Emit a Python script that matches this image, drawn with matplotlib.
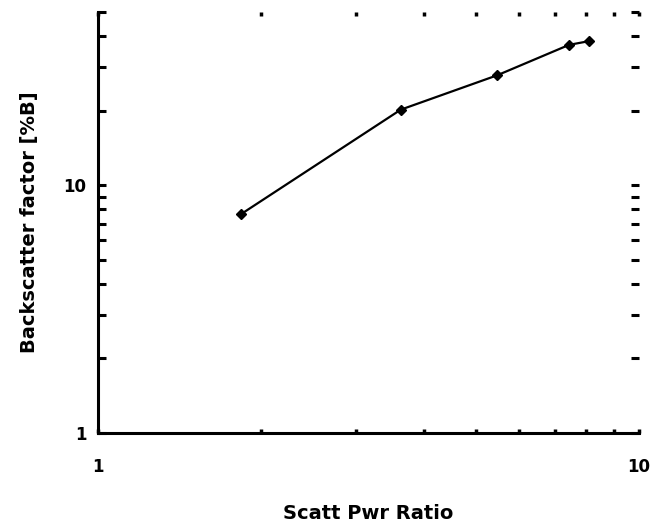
import matplotlib
matplotlib.use("Agg")
import matplotlib.pyplot as plt
from matplotlib.ticker import FixedLocator, NullFormatter, FuncFormatter

# Backscatter factor versus scattered power ratio
scatt_pwr_ratio = [1.84, 3.63, 5.47, 7.43, 8.09]
backscatter_pct = [7.65, 20.2, 27.8, 36.9, 38.2]

x_major = [1, 10]
x_minor = [2, 3, 4, 5, 6, 7, 8, 9]
y_major = [1, 10]
y_minor = [2, 3, 4, 5, 6, 7, 8, 9, 20, 30, 40, 50]

fig = plt.figure(figsize=(6.56, 5.29), dpi=100)
ax = fig.add_axes([0.149, 0.1815, 0.825, 0.7955])

ax.plot(scatt_pwr_ratio, backscatter_pct, color='black', lw=1.6,
        marker='D', markersize=5, markerfacecolor='black')

ax.set_xscale('log')
ax.set_yscale('log')
ax.set_xlim(1, 10)
ax.set_ylim(1, 50)

for side in ('top', 'right'):
    ax.spines[side].set_visible(False)
for side in ('left', 'bottom'):
    ax.spines[side].set_linewidth(2.2)

ax.xaxis.set_major_locator(FixedLocator(x_major))
ax.xaxis.set_minor_locator(FixedLocator(x_minor))
ax.yaxis.set_major_locator(FixedLocator(y_major))
ax.yaxis.set_minor_locator(FixedLocator(y_minor))
fmt = FuncFormatter(lambda v, p: f'{v:g}')
ax.xaxis.set_major_formatter(fmt)
ax.yaxis.set_major_formatter(fmt)
ax.xaxis.set_minor_formatter(NullFormatter())
ax.yaxis.set_minor_formatter(NullFormatter())

ax.tick_params(axis='x', which='both', direction='in', top=True, bottom=True,
               length=3, width=2.5, pad=18, labelsize=12)
ax.tick_params(axis='y', which='both', direction='in', left=True, right=True,
               length=6, width=2.2, pad=8, labelsize=12)

for lab in ax.get_xticklabels() + ax.get_yticklabels():
    lab.set_fontweight('bold')

ax.set_xlabel('Scatt Pwr Ratio', fontsize=14, fontweight='bold')
ax.xaxis.set_label_coords(0.5, -0.168)
ax.set_ylabel('Backscatter factor [%B]', fontsize=14, fontweight='bold', labelpad=18)

fig.savefig('out.png', dpi=100)
